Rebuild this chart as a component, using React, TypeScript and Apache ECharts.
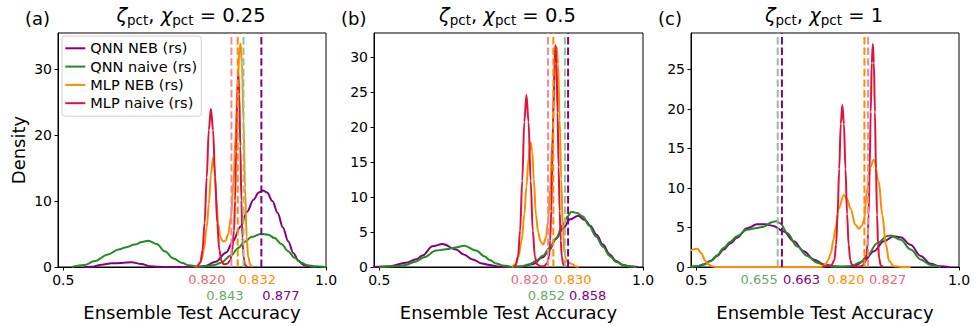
import React, { useEffect, useRef } from "react";
import * as echarts from "echarts";

const FONT = "DejaVu Sans";

// ---------- data ----------
const seriesNames = ["QNN NEB (rs)", "QNN naive (rs)", "MLP NEB (rs)", "MLP naive (rs)"];
const panelLetters = ["(a)", "(b)", "(c)"];
const panelParams = ["0.25", "0.5", "1"];
const xTicks = [0.5, 1.0];
const yTicksA = [0, 10, 20, 30];
const yTicksB = [0, 5, 10, 15, 20, 25, 30];
const yTicksC = [0, 5, 10, 15, 20, 25];
const yMaxes = [35.5, 33.4, 29.6];
const xMin = 0.49;
const xMax = 1.0;

// dashed reference values (order: QNN NEB, QNN naive, MLP NEB, MLP naive)
const refA = [0.877, 0.843, 0.832, 0.82];
const refB = [0.858, 0.852, 0.83, 0.82];
const refC = [0.663, 0.655, 0.82, 0.827];

type P = [number, number][];

const qnnNebA: P = [[0.54,0],[0.555,0.05],[0.573,0.35],[0.592,0.55],[0.611,0.62],[0.63,0.72],[0.649,0.45],[0.665,0.12],[0.682,0.02],[0.7,0],[0.75,0],[0.77,0.15],[0.79,0.8],[0.81,2.2],[0.823,3.9],[0.837,6.1],[0.85,8.4],[0.862,10.2],[0.872,11.3],[0.88,11.6],[0.888,11.3],[0.898,10.0],[0.908,8.2],[0.918,6.0],[0.928,3.9],[0.938,2.1],[0.948,0.9],[0.958,0.3],[0.968,0.07],[0.98,0]];
const qnnNaiveA: P = [[0.516,0],[0.54,0.3],[0.56,0.9],[0.585,1.9],[0.605,2.65],[0.62,3.0],[0.636,3.4],[0.65,3.8],[0.662,4.0],[0.678,3.5],[0.693,2.4],[0.71,1.3],[0.725,0.65],[0.74,0.25],[0.757,0.05],[0.775,0.12],[0.79,0.35],[0.8,0.65],[0.82,1.8],[0.833,2.9],[0.845,3.8],[0.858,4.55],[0.877,5.05],[0.89,4.9],[0.902,4.4],[0.915,3.5],[0.928,2.4],[0.94,1.4],[0.953,0.65],[0.965,0.25],[0.978,0.1],[1.0,0]];
const mlpNebA: P = [[0.752,0],[0.758,0.3],[0.763,1.0],[0.768,2.8],[0.773,6],[0.777,9.5],[0.781,14],[0.785,16.6],[0.788,15],[0.791,10.5],[0.795,6.5],[0.799,4.5],[0.804,3.9],[0.809,4.0],[0.814,5.0],[0.819,7.5],[0.824,13],[0.828,20],[0.832,28],[0.8355,33],[0.8375,33.9],[0.84,31],[0.843,22],[0.846,12],[0.849,4.5],[0.852,1.5],[0.856,0.3],[0.86,0]];
const mlpNaiveA: P = [[0.755,0],[0.761,0.7],[0.765,2.5],[0.769,6.7],[0.773,13.6],[0.777,20.8],[0.781,24.0],[0.785,20.8],[0.789,13.6],[0.793,6.7],[0.797,2.6],[0.801,0.9],[0.806,0.4],[0.812,0.5],[0.818,1.0],[0.821,2.2],[0.825,5.5],[0.827,10.1],[0.829,17.5],[0.831,25.5],[0.833,29.5],[0.835,26.2],[0.837,18.3],[0.839,10.1],[0.841,4.4],[0.843,1.5],[0.846,0.3],[0.85,0]];

const qnnNebB: P = [[0.487,0],[0.52,0.12],[0.55,0.6],[0.57,1.1],[0.582,1.64],[0.601,2.95],[0.62,3.28],[0.6456,2.5],[0.66,1.8],[0.677,1.08],[0.695,0.5],[0.709,0.28],[0.725,0.08],[0.745,0],[0.77,0.05],[0.791,0.4],[0.81,1.4],[0.823,2.5],[0.835,4.0],[0.848,5.5],[0.862,6.8],[0.877,7.3],[0.89,6.7],[0.9,5.9],[0.912,4.6],[0.924,3.2],[0.937,1.8],[0.949,0.84],[0.962,0.3],[0.975,0.1],[0.99,0]];
const qnnNaiveB: P = [[0.5,0],[0.53,0.1],[0.55,0.28],[0.57,0.8],[0.585,1.4],[0.6076,2.34],[0.627,2.55],[0.6456,2.8],[0.661,3.05],[0.6835,2.34],[0.7,1.5],[0.709,1.0],[0.722,0.5],[0.734,0.23],[0.753,0.03],[0.77,0.1],[0.785,0.4],[0.797,0.84],[0.81,1.6],[0.823,2.7],[0.835,4.1],[0.848,6.0],[0.857,7.2],[0.864,7.9],[0.875,7.7],[0.886,7.2],[0.898,5.9],[0.911,4.36],[0.924,2.9],[0.937,1.55],[0.95,0.7],[0.962,0.28],[0.975,0.08],[0.987,0]];
const mlpNebB: P = [[0.752,0],[0.758,0.4],[0.764,1.5],[0.77,3.8],[0.775,7.5],[0.779,11.5],[0.783,15.5],[0.787,17.8],[0.79,16.5],[0.793,12.5],[0.797,7.5],[0.801,5.0],[0.806,3.6],[0.811,3.2],[0.816,4.2],[0.82,6.5],[0.824,11],[0.828,18],[0.832,26],[0.8345,30.5],[0.8365,31.4],[0.839,29],[0.842,21],[0.845,12.5],[0.848,5.5],[0.851,2.0],[0.855,0.8],[0.86,0.6],[0.866,0.4],[0.872,0.1],[0.878,0]];
const mlpNaiveB: P = [[0.755,0],[0.759,0.3],[0.763,1.5],[0.767,5.2],[0.771,12.3],[0.775,20.7],[0.779,24.6],[0.783,20.7],[0.787,12.3],[0.791,5.2],[0.795,1.5],[0.799,0.4],[0.805,0.1],[0.812,0.1],[0.818,0.5],[0.822,1.5],[0.824,3.8],[0.826,8],[0.828,14.3],[0.83,22],[0.832,29],[0.834,31.7],[0.836,29],[0.838,22],[0.84,14.3],[0.842,8],[0.844,3.8],[0.846,1.5],[0.849,0.3],[0.855,0]];

const qnnNebC: P = [[0.488,0],[0.501,0.08],[0.515,0.35],[0.527,0.75],[0.54,1.4],[0.552,2.2],[0.565,3.0],[0.5775,3.7],[0.5966,4.9],[0.6156,5.4],[0.6315,5.4],[0.647,5.2],[0.6665,4.5],[0.6855,3.25],[0.7046,2.0],[0.7236,0.96],[0.743,0.33],[0.762,0.08],[0.78,0.02],[0.8,0.1],[0.819,0.75],[0.838,2.0],[0.857,3.25],[0.876,3.9],[0.889,3.75],[0.908,2.8],[0.927,1.4],[0.946,0.4],[0.965,0.08],[0.981,0]];
const qnnNaiveC: P = [[0.488,0],[0.501,0.08],[0.515,0.3],[0.527,0.75],[0.54,1.5],[0.552,2.4],[0.565,3.2],[0.5775,3.9],[0.5966,4.7],[0.6125,4.9],[0.628,5.1],[0.644,5.67],[0.6525,5.8],[0.66,5.5],[0.673,4.3],[0.692,2.6],[0.711,1.4],[0.73,0.55],[0.749,0.12],[0.768,0.02],[0.7935,0.1],[0.8126,0.6],[0.825,1.4],[0.8443,3.0],[0.863,3.9],[0.87,4.0],[0.889,3.45],[0.908,2.2],[0.927,0.96],[0.946,0.25],[0.965,0]];
const mlpNebC: P = [[0.4886,2.05],[0.495,2.25],[0.5025,2.3],[0.51,1.7],[0.517,0.8],[0.524,0.3],[0.53,0.08],[0.54,0],[0.736,0],[0.741,0.05],[0.746,0.33],[0.751,0.9],[0.756,1.7],[0.761,3.4],[0.765,4.9],[0.771,7.4],[0.7808,9.1],[0.787,8.6],[0.7934,7.4],[0.803,5.3],[0.8098,4.85],[0.815,5.2],[0.819,5.9],[0.8254,9.9],[0.831,12.6],[0.838,13.6],[0.8475,10.75],[0.854,6.6],[0.861,2.8],[0.867,0.75],[0.876,0.1],[0.89,0],[0.908,0]];
const mlpNaiveC: P = [[0.74,0],[0.757,0.23],[0.763,0.9],[0.766,2.8],[0.769,6.7],[0.772,12.4],[0.775,18.1],[0.778,20.5],[0.781,18.1],[0.784,12.4],[0.787,6.7],[0.79,2.8],[0.793,0.9],[0.796,0.3],[0.802,0.1],[0.81,0.05],[0.816,0.15],[0.821,0.6],[0.824,1.6],[0.826,2.9],[0.828,6.6],[0.83,12.5],[0.832,19.6],[0.834,25.8],[0.836,28.2],[0.838,25.8],[0.84,19.6],[0.842,12.5],[0.844,6.6],[0.846,2.9],[0.848,1.1],[0.851,0.2],[0.856,0]];

const curves: P[][] = [
  [qnnNebA, qnnNaiveA, mlpNebA, mlpNaiveA],
  [qnnNebB, qnnNaiveB, mlpNebB, mlpNaiveB],
  [qnnNebC, qnnNaiveC, mlpNebC, mlpNaiveC],
];
const refs = [refA, refB, refC];
const yTicks = [yTicksA, yTicksB, yTicksC];

// ---------- styles / layout ----------
const colors = ["#800080", "#228B22", "#FF8C00", "#DC143C"];
const dashColors = ["#800080", "#8fc58f", "#FF8C00", "#ee8a9c"];
const textColors = ["#800080", "#5fad5f", "#FF8C00", "#e8687e"];
const grids = [
  { left: 58, top: 33, width: 268, height: 237 },
  { left: 374, top: 33, width: 269, height: 237 },
  { left: 691, top: 33, width: 268, height: 237 },
];
// label layout per panel: [align, row, dx]
const labelLayout: [string, number, number][][] = [
  [["left", 1, 1], ["right", 1, 0], ["left", 0, 1], ["right", 0, -6]],
  [["left", 1, 1], ["right", 1, 0], ["left", 0, 1], ["right", 0, 0]],
  [["left", 0, 1], ["right", 0, 0], ["right", 0, 0], ["left", 0, 1]],
];
const rowY = [279.5, 295.3];

export default function App() {
  const ref = useRef<HTMLDivElement>(null);
  useEffect(() => {
    if (!ref.current) return;
    const chart = echarts.init(ref.current, null, { renderer: "svg" });
    const series: any[] = [];
    curves.forEach((panel, p) => {
      panel.forEach((data, s) => {
        series.push({
          name: seriesNames[s],
          type: "line",
          xAxisIndex: p,
          yAxisIndex: p,
          data,
          smooth: 0.35,
          smoothMonotone: "x",
          symbol: "none",
          color: colors[s],
          lineStyle: { width: 2, color: colors[s] },
          itemStyle: { color: colors[s] },
          z: 2 + s,
          silent: true,
        });
      });
      refs[p].forEach((v, s) => {
        series.push({
          name: "ref-" + p + "-" + s,
          type: "line",
          xAxisIndex: p,
          yAxisIndex: p,
          data: [[v, 0], [v, yMaxes[p]]],
          symbol: "none",
          lineStyle: { width: 2, color: dashColors[s], type: [7.4, 3.2] },
          z: 10 + s,
          silent: true,
        });
      });
    });

    const option: any = {
      animation: false,
      backgroundColor: "#ffffff",
      textStyle: { fontFamily: FONT },
      grid: grids.map((g) => ({ ...g, show: true, borderColor: "#000", borderWidth: 1, backgroundColor: "transparent", containLabel: false })),
      xAxis: grids.map((_, p) => ({
        type: "value",
        gridIndex: p,
        min: xMin,
        max: xMax,
        name: "Ensemble Test Accuracy",
        nameLocation: "middle",
        nameGap: 36,
        nameTextStyle: { fontSize: 18, lineHeight: 18, color: "#000", fontFamily: FONT },
        axisLine: { show: true, onZero: false, lineStyle: { color: "#000", width: 1 } },
        axisTick: { show: true, length: 3.5, customValues: xTicks, lineStyle: { color: "#000" } },
        axisLabel: {
          customValues: xTicks,
          formatter: (v: number) => v.toFixed(1),
          fontSize: 14,
          color: "#000",
          margin: 6,
          fontFamily: FONT,
        },
        splitLine: { show: false },
      })),
      yAxis: grids.map((_, p) => ({
        type: "value",
        gridIndex: p,
        min: 0,
        max: yMaxes[p],
        name: p === 0 ? "Density" : "",
        nameLocation: "middle",
        nameGap: 31,
        nameTextStyle: { fontSize: 18, color: "#000", fontFamily: FONT },
        axisLine: { show: true, lineStyle: { color: "#000", width: 1 } },
        axisTick: { show: true, length: 3.5, customValues: yTicks[p], lineStyle: { color: "#000" } },
        axisLabel: { customValues: yTicks[p], fontSize: 14, color: "#000", margin: 6, fontFamily: FONT },
        splitLine: { show: false },
      })),
      legend: {
        data: seriesNames,
        orient: "vertical",
        left: 62,
        top: 36,
        icon: "rect",
        itemWidth: 20,
        itemHeight: 2,
        itemGap: 3.3,
        padding: [4.8, 4.2, 5.5, 3.3],
        borderColor: "#d0d0d0",
        borderWidth: 1,
        borderRadius: 3,
        backgroundColor: "rgba(255,255,255,0.8)",
        textStyle: { fontSize: 14.5, lineHeight: 15, color: "#000", fontFamily: FONT },
        selectedMode: false,
      },
      series,
    };
    chart.setOption(option);

    const elements: any[] = [];
    grids.forEach((g, p) => {
      const cx = g.left + g.width / 2;
      elements.push({
        type: "text",
        x: g.left - 33,
        y: 18,
        style: { text: panelLetters[p], fontSize: 18, fontFamily: FONT, fill: "#000", align: "left", verticalAlign: "middle" },
      });
      elements.push({
        type: "text",
        x: cx - 1,
        y: 15,
        style: {
          text: "{i|ζ}{s|pct}{n|, }{i|χ}{s|pct}{n| = " + panelParams[p] + "}",
          align: "center",
          verticalAlign: "middle",
          fill: "#000",
          rich: {
            i: { fontStyle: "italic", fontSize: 19.5, fontFamily: FONT, lineHeight: 23, fill: "#000" },
            n: { fontSize: 19.5, fontFamily: FONT, lineHeight: 23, fill: "#000" },
            s: { fontSize: 13.5, fontFamily: FONT, lineHeight: 14, verticalAlign: "bottom", fill: "#000" },
          },
        },
      });
      refs[p].forEach((v, s) => {
        const pt = chart.convertToPixel({ gridIndex: p } as any, [v, 0]) as number[];
        const [align, row, dx] = labelLayout[p][s];
        elements.push({
          type: "text",
          x: pt[0] + dx,
          y: rowY[row],
          style: {
            text: v.toFixed(3),
            fontSize: 13,
            lineHeight: 13,
            fontFamily: FONT,
            fill: textColors[s],
            align,
            verticalAlign: "middle",
          },
        });
      });
    });
    chart.setOption({ graphic: { elements } });
    return () => chart.dispose();
  }, []);
  return (
    <div
      ref={ref}
      style={{ position: "fixed", left: 0, top: 0, width: 974, height: 326, background: "#fff" }}
    />
  );
}
